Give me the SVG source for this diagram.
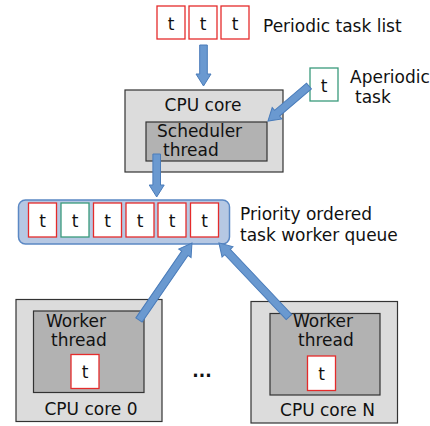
<svg xmlns="http://www.w3.org/2000/svg" width="430" height="426" viewBox="0 0 430 426">
<style>
text{font-family:"DejaVu Sans","Liberation Sans",sans-serif;font-size:17px;fill:#111}
.t{text-anchor:middle}
.red{fill:#fff;stroke:#e52b2b;stroke-width:1.3}
.grn{fill:#fff;stroke:#3a9a7c;stroke-width:1.3}
.core{fill:#dcdcdc;stroke:#333;stroke-width:1.2}
.thr{fill:#b2b2b2;stroke:#333;stroke-width:1.2}
.arr{fill:#6a99d0;stroke:#4a7cba;stroke-width:1}
.q{fill:#b6c8e3;stroke:#5b88c4;stroke-width:1.5}
</style>
<rect width="430" height="426" fill="#fff"/>
<g id="periodic">
<rect class="red" x="157" y="6" width="28" height="33"/><text class="t" x="171" y="30">t</text>
<rect class="red" x="189" y="6" width="28" height="33"/><text class="t" x="203" y="30">t</text>
<rect class="red" x="221" y="6" width="28" height="33"/><text class="t" x="235" y="30">t</text>
<text x="263" y="32">Periodic task list</text>
</g>
<g id="aperiodic">
<rect class="grn" x="310" y="68" width="28" height="33"/><text class="t" x="324" y="92">t</text>
<text x="350" y="83">Aperiodic</text>
<text x="355" y="103">task</text>
</g>
<g id="cpu-core">
<rect class="core" x="125" y="90" width="158" height="82"/>
<text class="t" x="203" y="111">CPU core</text>
<g id="scheduler">
<rect class="thr" x="146" y="122" width="121" height="39"/>
<text x="157" y="137">Scheduler</text>
<text x="163" y="156">thread</text>
</g>
</g>
<g id="queue">
<rect class="q" x="18.5" y="200" width="211" height="44" rx="7"/>
<rect class="red" x="28.5" y="203" width="28" height="34"/><text class="t" x="42.5" y="227">t</text>
<rect class="grn" x="61" y="203" width="28" height="34"/><text class="t" x="75" y="227">t</text>
<rect class="red" x="93.5" y="203" width="28" height="34"/><text class="t" x="107.5" y="227">t</text>
<rect class="red" x="126" y="203" width="28" height="34"/><text class="t" x="140" y="227">t</text>
<rect class="red" x="158" y="203" width="28" height="34"/><text class="t" x="172" y="227">t</text>
<rect class="red" x="190.5" y="203" width="28" height="34"/><text class="t" x="204.5" y="227">t</text>
<text x="240" y="220">Priority ordered</text>
<text x="240" y="241">task worker queue</text>
</g>
<g id="core0">
<rect class="core" x="16" y="299.5" width="146" height="122"/>
<rect class="thr" x="33.5" y="311" width="110.5" height="81.5"/>
<text x="46" y="327">Worker</text>
<text x="51" y="346">thread</text>
<rect class="red" x="71" y="354.5" width="28" height="34"/><text class="t" x="85" y="378">t</text>
<text class="t" x="91" y="415">CPU core 0</text>
</g>
<g id="coreN">
<rect class="core" x="251" y="301.5" width="146.5" height="121.5"/>
<rect class="thr" x="270" y="313.5" width="110" height="81.5"/>
<text x="293" y="327">Worker</text>
<text x="298" y="346">thread</text>
<rect class="red" x="307.5" y="356" width="28" height="34.5"/><text class="t" x="321.5" y="380">t</text>
<text class="t" x="327.5" y="416">CPU core N</text>
</g>
<text x="202" y="377" class="t" style="font-weight:bold">...</text>
<g id="connectors">
<polygon class="arr" transform="translate(203.5,45) rotate(90)" points="0,-3.8 29,-3.8 29,-7.5 41,0 29,7.5 29,3.8 0,3.8"/>
<polygon class="arr" transform="translate(309,86) rotate(139.5)" points="0,-3.8 42,-3.8 42,-7.5 54,0 42,7.5 42,3.8 0,3.8"/>
<polygon class="arr" transform="translate(156.7,154) rotate(90)" points="0,-3.8 31,-3.8 31,-7.5 43,0 31,7.5 31,3.8 0,3.8"/>
<polygon class="arr" transform="translate(139,320) rotate(-55.5)" points="0,-3.8 81,-3.8 81,-7.5 93.5,0 81,7.5 81,3.8 0,3.8"/>
<polygon class="arr" transform="translate(289,317) rotate(-133.4)" points="0,-3.8 89.5,-3.8 89.5,-7.5 102,0 89.5,7.5 89.5,3.8 0,3.8"/>
</g>
</svg>
